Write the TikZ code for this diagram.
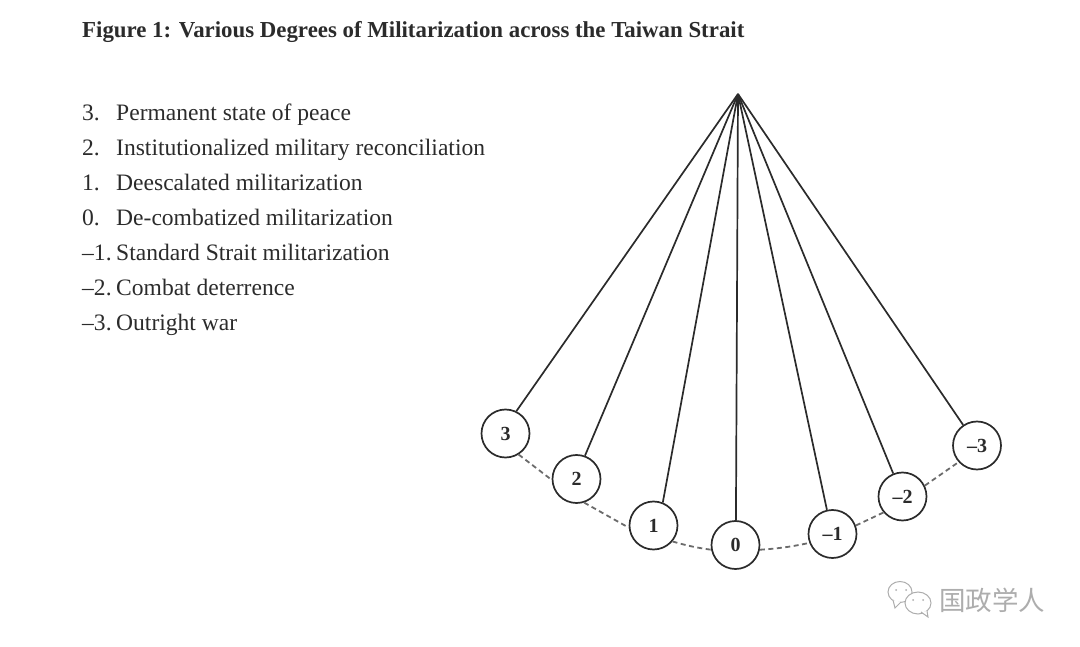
\documentclass[tikz,border=0pt]{standalone}
\usepackage{fontspec}
\setmainfont{Liberation Serif}
\newfontfamily\cjkfont{Noto Sans CJK SC}
\definecolor{ink}{HTML}{2B2B2B}
\definecolor{wm}{HTML}{ADADAD}
\tikzset{
  stage/.style={circle,draw=ink,line width=1.7pt,fill=white,minimum size=48pt,inner sep=0pt,text=ink,font=\fontsize{20}{20}\selectfont\bfseries},
  arm/.style={draw=ink,line width=1.7pt},
  link/.style={draw=ink!70,line width=1.8pt,dash pattern=on 5pt off 3.5pt},
  titletext/.style={anchor=base west,inner sep=0pt,text=ink,font=\fontsize{22.85}{23}\selectfont\bfseries},
  listtext/.style={anchor=base west,inner sep=0pt,text=ink,font=\fontsize{23.55}{24}\selectfont},
  bubble/.style={draw=wm,line width=1pt,fill=white},
  wmtext/.style={anchor=base west,inner sep=0pt,text=wm,font=\fontsize{26.5}{27}\selectfont\cjkfont}
}
\begin{document}
\begin{tikzpicture}[x=1pt,y=-1pt]
\useasboundingbox (0,0) rectangle (1080,647);
\node[titletext] (title) at (82,38) {Figure 1: Various Degrees of Militarization across the Taiwan Strait};
\node[listtext] (n3) at (82,120.5) {3.};
\node[listtext] (t3) at (116,120.5) {Permanent state of peace};
\node[listtext] (n2) at (82,155.5) {2.};
\node[listtext] (t2) at (116,155.5) {Institutionalized military reconciliation};
\node[listtext] (n1) at (82,190.5) {1.};
\node[listtext] (t1) at (116,190.5) {Deescalated militarization};
\node[listtext] (n0) at (82,225.5) {0.};
\node[listtext] (t0) at (116,225.5) {De-combatized militarization};
\node[listtext] (nm1) at (82,260.5) {–1.};
\node[listtext] (tm1) at (116,260.5) {Standard Strait militarization};
\node[listtext] (nm2) at (82,295.5) {–2.};
\node[listtext] (tm2) at (116,295.5) {Combat deterrence};
\node[listtext] (nm3) at (82,330.5) {–3.};
\node[listtext] (tm3) at (116,330.5) {Outright war};

\coordinate (apex) at (738,94);
\node[stage] (s3) at (505.5,433.5) {3};
\node[stage] (s2) at (576.5,479) {2};
\node[stage] (s1) at (653.5,525.5) {1};
\node[stage] (s0) at (735.5,545) {0};
\node[stage] (sm1) at (832.5,534) {–1};
\node[stage] (sm2) at (902.5,496.5) {–2};
\node[stage] (sm3) at (977,445.5) {–3};

\draw[arm] (apex) -- (s3.64);
\draw[arm] (apex) -- (s2.70);
\draw[arm] (apex) -- (s1.68);
\draw[arm] (apex) -- (s0.89);
\draw[arm] (apex) -- (sm1.103);
\draw[arm] (apex) -- (sm2.112);
\draw[arm] (apex) -- (sm3.124);
\draw[link] (s3.-58) -- (s2.182);
\draw[link] (s2.-72) -- (s1.185);
\draw[link] (s1.-40) to[bend right=4] (s0.191);
\draw[link] (s0.-11) to[bend right=4] (sm1.201);
\draw[link] (sm1.20) -- (sm2.220);
\draw[link] (sm2.26) -- (sm3.222);

% watermark
\draw[bubble] (900,592) ellipse (12pt and 10.5pt);
\draw[bubble] (893,600) -- (895,608) -- (901,602);
\draw[bubble] (918,603) ellipse (13pt and 11pt);
\draw[bubble] (921,612) -- (928,617) -- (927,611);
\fill[wm] (896,590) circle (1pt) (906,590) circle (1pt) (913,600) circle (1pt) (923,600) circle (1pt);
\node[wmtext] (mark) at (939,610) {国政学人};
\end{tikzpicture}
\end{document}
